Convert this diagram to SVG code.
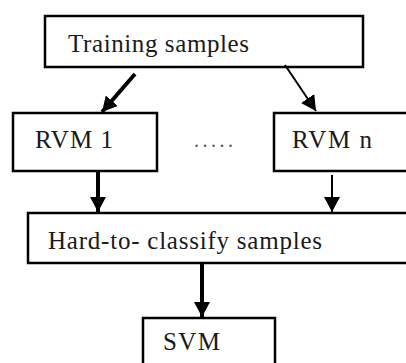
<svg xmlns="http://www.w3.org/2000/svg" width="406" height="363" viewBox="0 0 406 363">
  <style>
    .box { fill: #ffffff; stroke: #000000; stroke-width: 2.5; }
    .thick { stroke: #000000; stroke-width: 4; fill: none; }
    .thin { stroke: #000000; stroke-width: 2; fill: none; }
  </style>
  <defs>
    <marker id="head" markerUnits="userSpaceOnUse" markerWidth="16" markerHeight="16" refX="15" refY="8" orient="auto">
      <path d="M0,0 L15,8 L0,16 z" fill="#000000"/>
    </marker>
  </defs>
  <rect width="406" height="363" fill="#ffffff"/>

  <!-- all labels share one serif face -->
  <g font-family="Liberation Serif, Times New Roman, serif" font-size="25" fill="#1a1a1a">
    <g id="training">
      <rect class="box" x="45" y="16" width="318" height="51"/>
      <text x="68" y="52" textLength="181" lengthAdjust="spacing">Training samples</text>
    </g>

    <g id="rvm1">
      <rect class="box" x="13" y="113" width="144" height="58"/>
      <text x="35" y="148" textLength="78" lengthAdjust="spacing">RVM 1</text>
    </g>

    <g id="ellipsis">
      <text x="194" y="147" font-size="20" fill="#555555" letter-spacing="3.5">.....</text>
    </g>

    <g id="rvmn">
      <rect class="box" x="274" y="113" width="140" height="58"/>
      <text x="292" y="148" textLength="80" lengthAdjust="spacing">RVM n</text>
    </g>

    <g id="hard">
      <rect class="box" x="28" y="213" width="390" height="50"/>
      <text x="48" y="249" textLength="274" lengthAdjust="spacing">Hard-to- classify samples</text>
    </g>

    <g id="svm">
      <rect class="box" x="143" y="318" width="132" height="60"/>
      <text x="163" y="350" textLength="57" lengthAdjust="spacing">SVM</text>
    </g>
  </g>

  <g id="connectors">
    <line class="thick" x1="135" y1="74" x2="102" y2="112" marker-end="url(#head)"/>
    <line class="thin" x1="285" y1="65" x2="316" y2="111" marker-end="url(#head)"/>
    <line class="thick" x1="98" y1="171" x2="98" y2="212" marker-end="url(#head)"/>
    <line class="thin" x1="332" y1="175" x2="332" y2="212" marker-end="url(#head)"/>
    <line class="thick" x1="202" y1="263" x2="202" y2="317" marker-end="url(#head)"/>
  </g>
</svg>
